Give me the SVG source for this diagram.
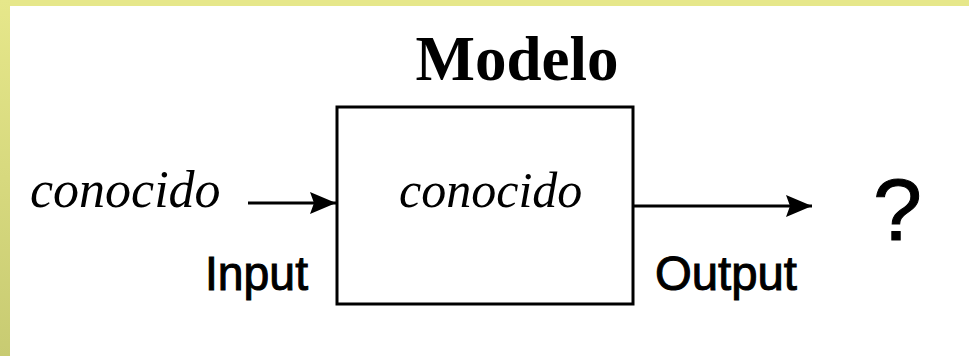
<svg xmlns="http://www.w3.org/2000/svg" width="969" height="356" viewBox="0 0 969 356">
<defs>
<linearGradient id="lg" x1="0" y1="0" x2="0" y2="1">
<stop offset="0" stop-color="#e6e78a"/>
<stop offset="1" stop-color="#c8cb72"/>
</linearGradient>
<marker id="ah" viewBox="0 0 26 22" refX="26" refY="11" markerWidth="26" markerHeight="22" markerUnits="userSpaceOnUse" orient="auto">
<path d="M0,0 L26,11 L0,22 L4,11 Z" fill="#000"/>
</marker>
<style>
.serif{font-family:"Liberation Serif","Times New Roman",serif;fill:#000}
.sans{font-family:"Liberation Sans",Arial,sans-serif;fill:#000;stroke:#000;stroke-width:1}
.conn{stroke:#000;stroke-width:3;fill:none}
</style>
</defs>
<rect width="969" height="356" fill="#fff"/>
<rect x="0" y="0" width="969" height="6" fill="#e6e78a"/>
<rect x="0" y="0" width="10" height="356" fill="url(#lg)"/>
<g id="title">
<text class="serif" x="517" y="80" font-size="63" font-weight="bold" text-anchor="middle">Modelo</text>
</g>
<g id="input">
<text class="serif" x="30" y="207" font-size="52" font-style="italic">conocido</text>
<text class="sans" x="205" y="290" font-size="48" textLength="103" lengthAdjust="spacingAndGlyphs">Input</text>
</g>
<g id="model">
<rect x="337" y="107" width="296" height="197" fill="#fff" stroke="#000" stroke-width="3"/>
<text class="serif" x="399" y="207" font-size="50" font-style="italic">conocido</text>
</g>
<g id="output">
<text class="sans" x="655" y="290" font-size="48" textLength="142" lengthAdjust="spacingAndGlyphs">Output</text>
<text class="sans" x="873" y="240" font-size="88" stroke-width="2">?</text>
</g>
<g id="connectors">
<line class="conn" x1="248" y1="203" x2="336" y2="203" marker-end="url(#ah)"/>
<line class="conn" x1="634" y1="206" x2="812" y2="206" marker-end="url(#ah)"/>
</g>
</svg>
